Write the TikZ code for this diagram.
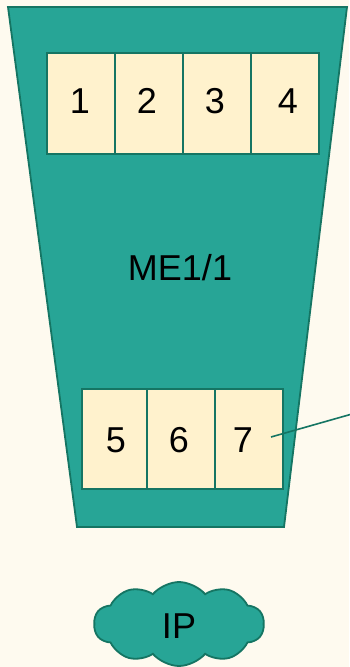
\documentclass[tikz,border=0pt]{standalone}
\usepackage{fontspec}
\setmainfont{Liberation Sans}
\usetikzlibrary{shapes.symbols}
\definecolor{bgc}{HTML}{FEFAEF}
\definecolor{tealf}{HTML}{27A596}
\definecolor{teald}{HTML}{157563}
\definecolor{cellf}{HTML}{FFF2CD}
\begin{document}
\begin{tikzpicture}[x=1pt,y=-1pt,
  cell/.style={draw=teald, line width=1.8pt, fill=cellf, minimum height=101pt, inner sep=0pt, anchor=north west},
  digit/.style={font=\fontsize{36}{36}\selectfont, inner sep=0pt, text=black},
  link/.style={draw=teald, line width=1.6pt}]
\fill[bgc] (0,0) rectangle (349,667);
\useasboundingbox (0,0) rectangle (349,667);
\draw[fill=tealf, draw=teald, line width=1.8pt] (8,7) -- (347,7) -- (284,527) -- (77,527) -- cycle;
\node[cell, minimum width=68pt] (b1) at (46,52) {};
\node[cell, minimum width=68pt] (b2) at (114,52) {};
\node[cell, minimum width=68pt] (b3) at (182,52) {};
\node[cell, minimum width=68pt] (b4) at (250,52) {};
\node[digit] (t1) at (80,101) {1};
\node[digit] (t2) at (147,101) {2};
\node[digit] (t3) at (215,101) {3};
\node[digit] (t4) at (288,101) {4};
\node[digit] (me) at (180,268) {ME1/1};
\node[cell, minimum width=65pt, minimum height=100pt] (b5) at (81,388) {};
\node[cell, minimum width=68pt, minimum height=100pt] (b6) at (146,388) {};
\node[cell, minimum width=68pt, minimum height=100pt] (b7) at (214,388) {};
\node[digit] (t5) at (116,440) {5};
\node[digit] (t6) at (179,440) {6};
\node[digit] (t7) at (243,440) {7};
\coordinate (c7) at (271,437);
\coordinate (cend) at (352,414);
\draw[link] (c7) -- (cend);
\node[cloud, cloud puffs=10, cloud puff arc=100, cloud ignores aspect, minimum width=170pt, minimum height=84pt, draw=teald, fill=tealf, line width=1.8pt, inner sep=0pt] (ip) at (179,624) {};
\node[digit] (tip) at (179,626) {IP};
\end{tikzpicture}
\end{document}
